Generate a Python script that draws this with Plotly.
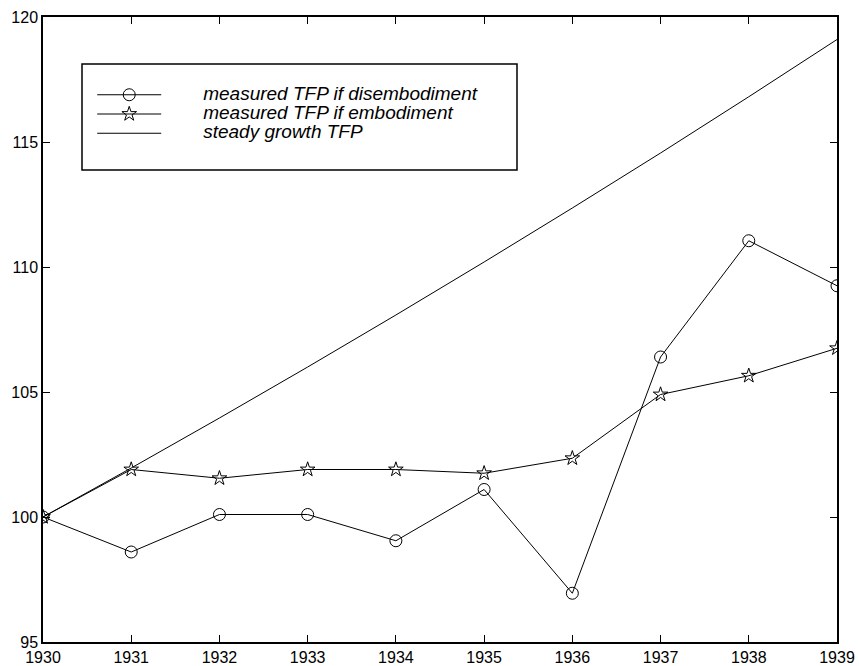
import plotly.graph_objects as go

years = [1930, 1931, 1932, 1933, 1934, 1935, 1936, 1937, 1938, 1939]
tfp_disembodiment = [100.0, 98.6, 100.1, 100.1, 99.05, 101.1, 96.95, 106.4, 111.05, 109.25]
tfp_embodiment = [100.0, 101.9, 101.55, 101.9, 101.9, 101.75, 102.35, 104.9, 105.65, 106.75]
tfp_steady = [100.0, 101.96, 103.96, 106.0, 108.08, 110.2, 112.36, 114.56, 116.81, 119.1]

names = ["measured TFP if disembodiment", "measured TFP if embodiment", "steady growth TFP"]
x_ticks = years
y_ticks = [95, 100, 105, 110, 115, 120]

FONT = "Liberation Sans, Arial, sans-serif"


def legend_label(text):
    return "<span style='font-size:19px'>" + "\u00a0" * 7 + text + "</span>"


fig = go.Figure()
fig.add_trace(go.Scatter(
    x=years, y=tfp_disembodiment, name=legend_label(names[0]), mode="lines+markers",
    line=dict(color="black", width=1),
    marker=dict(symbol="circle-open", size=12, color="black", line=dict(width=1)),
))
fig.add_trace(go.Scatter(
    x=years, y=tfp_embodiment, name=legend_label(names[1]), mode="lines+markers",
    line=dict(color="black", width=1),
    marker=dict(symbol="star-open", size=11, color="black", line=dict(width=1)),
))
fig.add_trace(go.Scatter(
    x=years, y=tfp_steady, name=legend_label(names[2]), mode="lines",
    line=dict(color="black", width=1),
))

axis_common = dict(
    showline=True, linecolor="black", linewidth=1.5, mirror="ticks",
    ticks="inside", ticklen=7, tickwidth=1, tickcolor="black",
    showgrid=False, zeroline=False, automargin=False,
    ticklabeloverflow="allow",
    tickfont=dict(family=FONT, size=16, color="black"),
)

fig.update_layout(
    width=859, height=666,
    margin=dict(l=43, r=22, t=17, b=24),
    paper_bgcolor="white", plot_bgcolor="white",
    showlegend=True,
    legend=dict(
        x=0.062, y=0.899, xanchor="left", yanchor="top",
        bgcolor="rgba(0,0,0,0)", borderwidth=0,
        itemwidth=64, tracegroupgap=0,
        font=dict(family=FONT, size=12.5, color="black", style="italic"),
    ),
    xaxis=dict(range=[1930, 1939], tickvals=x_ticks, ticktext=[str(v) for v in x_ticks], **axis_common),
    yaxis=dict(range=[95, 120], tickvals=y_ticks, ticktext=[str(v) for v in y_ticks], **axis_common),
    shapes=[dict(type="rect", xref="paper", yref="paper",
                 x0=(82 - 43) / 794, x1=(517 - 43) / 794,
                 y0=(642 - 170) / 625, y1=(642 - 64) / 625,
                 line=dict(color="black", width=1.5), fillcolor="rgba(0,0,0,0)")],
)

fig.write_html("out.html", config={"displayModeBar": False},
               post_script="document.body.style.margin='0px';")
